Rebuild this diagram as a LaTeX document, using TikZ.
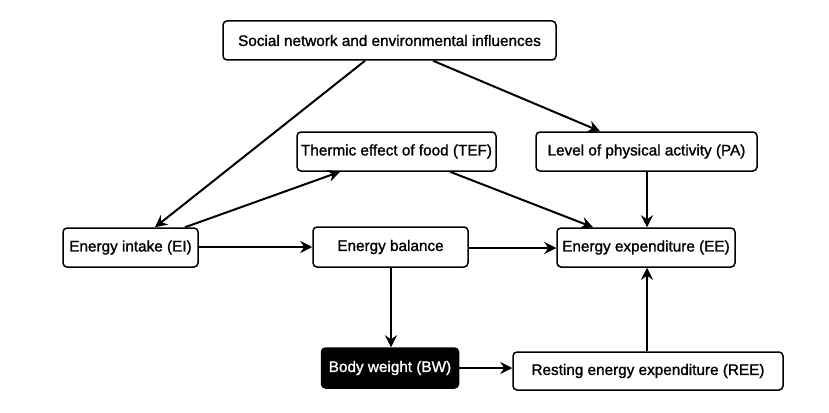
\documentclass[tikz,border=0pt]{standalone}
\usepackage{fontspec}
\setmainfont{Liberation Sans}[FakeBold=1.3]
\usetikzlibrary{arrows.meta}
\begin{document}
\begin{tikzpicture}[x=1pt,y=-1pt,
  box/.style={draw=black, line width=1.5pt, rounded corners=4pt, fill=white,
    inner sep=0pt, align=center, font=\fontsize{15.3}{18}\selectfont},
  darkbox/.style={box, fill=black, text=white},
  conn/.style={line width=2pt, -{Stealth[length=12pt,width=12pt,inset=4pt]}}]
\useasboundingbox (0,0) rectangle (829,412);
\node[box, minimum width=333pt, minimum height=39pt] (soc) at (389.5,40.5) {Social network and environmental influences};
\node[box, minimum width=199pt, minimum height=39pt] (tef) at (396.5,151.5) {Thermic effect of food (TEF)};
\node[box, minimum width=221pt, minimum height=39pt] (pa) at (646.5,151.5) {Level of physical activity (PA)};
\node[box, minimum width=135pt, minimum height=39pt] (ei) at (130.5,247.5) {Energy intake (EI)};
\node[box, minimum width=155pt, minimum height=40pt] (eb) at (390.5,247) {Energy balance};
\node[box, minimum width=178pt, minimum height=39pt] (ee) at (646,247.5) {Energy expenditure (EE)};
\node[darkbox, minimum width=137pt, minimum height=40pt] (bw) at (390,368) {Body weight (BW)};
\node[box, minimum width=270pt, minimum height=38pt] (ree) at (648,371) {Resting energy expenditure (REE)};

\draw[conn] ([xshift=-24.5pt]soc.south) -- ([xshift=24.5pt]ei.north);
\draw[conn] ([xshift=43.5pt]soc.south) -- ([xshift=-46.5pt]pa.north);
\draw[conn] ([xshift=54.5pt]ei.north) -- ([xshift=-56.5pt]tef.south);
\draw[conn] ([xshift=53.5pt]tef.south) -- ([xshift=-53pt]ee.north);
\draw[conn] ([xshift=0.5pt]pa.south) -- ([xshift=1pt]ee.north);
\draw[conn] ([yshift=0.5pt]ei.east) -- ([yshift=0.5pt]ei.east -| eb.west);
\draw[conn] ([yshift=-1pt]eb.east) -- ([yshift=-1pt]eb.east -| ee.west);
\draw[conn] ([xshift=0.5pt]eb.south) -- ([xshift=0.5pt]eb.south |- bw.north);
\draw[conn] (bw.east) -- (bw.east -| ree.west);
\draw[conn] ([xshift=1pt]ee.south |- ree.north) -- ([xshift=1pt]ee.south);
\end{tikzpicture}
\end{document}
